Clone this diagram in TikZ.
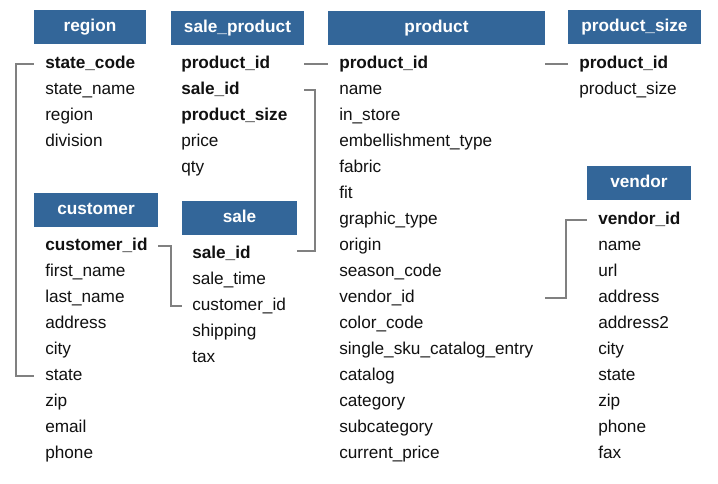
\documentclass[tikz,border=0pt]{standalone}
\usepackage{fontspec}
\setmainfont{Liberation Sans}
\definecolor{hdrblue}{HTML}{336699}
\definecolor{conngray}{HTML}{808080}
\definecolor{txt}{HTML}{111111}
\begin{document}
\begin{tikzpicture}[x=0.75pt,y=-0.75pt,
  hdr/.style={fill=hdrblue,text=white,font=\fontsize{12.9pt}{14pt}\selectfont\bfseries,inner sep=0pt,minimum height=25.5pt,text height=9.5pt,text depth=2.5pt},
  fld/.style={anchor=west,inner sep=0pt,text=txt,font=\fontsize{12.9pt}{14pt}\selectfont,text height=9.5pt,text depth=2.5pt},
  keyfld/.style={fld,font=\fontsize{12.9pt}{14pt}\selectfont\bfseries},
  conn/.style={draw=conngray,line width=1.5pt}]
\fill[white] (0,0) rectangle (718,483);
\useasboundingbox (0,0) rectangle (718,483);
% headers
\node[hdr,minimum width=84pt] (rh) at (90,27) {region};
\node[hdr,minimum width=99.75pt] (sph) at (237.5,28) {sale\_product};
\node[hdr,minimum width=162.75pt] (ph) at (436.5,28) {product};
\node[hdr,minimum width=99.75pt] (psh) at (634.5,27) {product\_size};
\node[hdr,minimum width=93pt] (ch) at (96,210) {customer};
\node[hdr,minimum width=86.25pt] (sh) at (239.5,218) {sale};
\node[hdr,minimum width=78pt] (vh) at (639,183) {vendor};
% region
\node[keyfld] (r1) at (45,64) {state\_code};
\node[fld] (r2) at (45,90) {state\_name};
\node[fld] (r3) at (45,116) {region};
\node[fld] (r4) at (45,142) {division};
% sale_product
\node[keyfld] (sp1) at (181,64) {product\_id};
\node[keyfld] (sp2) at (181,90) {sale\_id};
\node[keyfld] (sp3) at (181,116) {product\_size};
\node[fld] (sp4) at (181,142) {price};
\node[fld] (sp5) at (181,168) {qty};
% product
\node[keyfld] (p1) at (339,64) {product\_id};
\node[fld] (p2) at (339,90) {name};
\node[fld] (p3) at (339,116) {in\_store};
\node[fld] (p4) at (339,142) {embellishment\_type};
\node[fld] (p5) at (339,168) {fabric};
\node[fld] (p6) at (339,194) {fit};
\node[fld] (p7) at (339,220) {graphic\_type};
\node[fld] (p8) at (339,246) {origin};
\node[fld] (p9) at (339,272) {season\_code};
\node[fld] (p10) at (339,298) {vendor\_id};
\node[fld] (p11) at (339,324) {color\_code};
\node[fld] (p12) at (339,350) {single\_sku\_catalog\_entry};
\node[fld] (p13) at (339,376) {catalog};
\node[fld] (p14) at (339,402) {category};
\node[fld] (p15) at (339,428) {subcategory};
\node[fld] (p16) at (339,454) {current\_price};
% product_size
\node[keyfld] (ps1) at (579,64) {product\_id};
\node[fld] (ps2) at (579,90) {product\_size};
% customer
\node[keyfld] (c1) at (45,246) {customer\_id};
\node[fld] (c2) at (45,272) {first\_name};
\node[fld] (c3) at (45,298) {last\_name};
\node[fld] (c4) at (45,324) {address};
\node[fld] (c5) at (45,350) {city};
\node[fld] (c6) at (45,376) {state};
\node[fld] (c7) at (45,402) {zip};
\node[fld] (c8) at (45,428) {email};
\node[fld] (c9) at (45,454) {phone};
% sale
\node[keyfld] (s1) at (192,254) {sale\_id};
\node[fld] (s2) at (192,280) {sale\_time};
\node[fld] (s3) at (192,306) {customer\_id};
\node[fld] (s4) at (192,332) {shipping};
\node[fld] (s5) at (192,358) {tax};
% vendor
\node[keyfld] (v1) at (598,220) {vendor\_id};
\node[fld] (v2) at (598,246) {name};
\node[fld] (v3) at (598,272) {url};
\node[fld] (v4) at (598,298) {address};
\node[fld] (v5) at (598,324) {address2};
\node[fld] (v6) at (598,350) {city};
\node[fld] (v7) at (598,376) {state};
\node[fld] (v8) at (598,402) {zip};
\node[fld] (v9) at (598,428) {phone};
\node[fld] (v10) at (598,454) {fax};
% connectors
\draw[conn] (rh.west |- r1.west) -- ++(-18,0) |- (ch.west |- c6.west);
\draw[conn] (sph.east |- sp1.west) -- (ph.west |- p1.west);
\draw[conn] (sph.east |- sp2.west) -- ++(11,0) |- ([yshift=2.25pt]sh.east |- s1.west);
\draw[conn] (ch.east |- c1.west) -- ++(13,0) |- (sh.west |- s3.west);
\draw[conn] (psh.west |- ps1.west) -- (ph.east |- p1.west);
\draw[conn] (ph.east |- p10.west) -- ++(21,0) |- (vh.west |- v1.west);
\end{tikzpicture}
\end{document}
